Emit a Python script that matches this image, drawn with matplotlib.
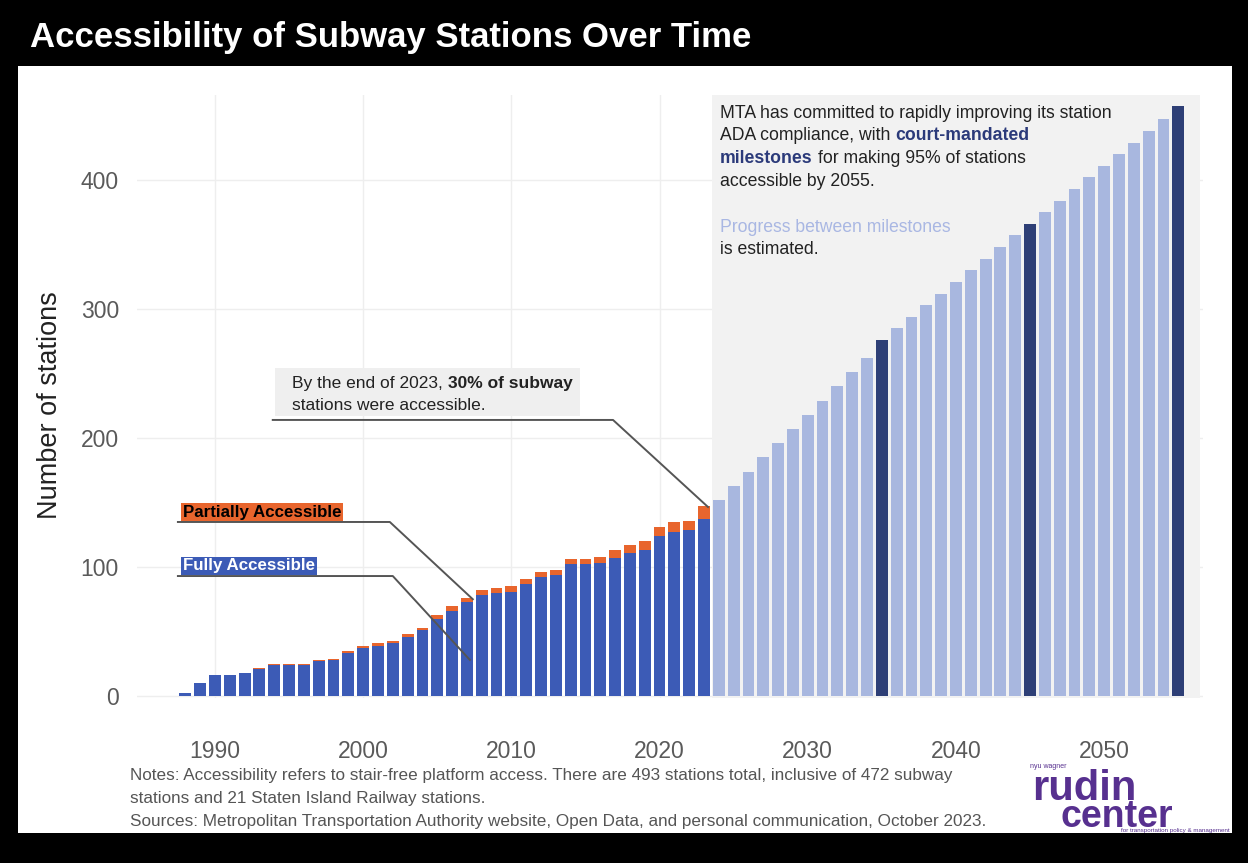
import matplotlib
matplotlib.use('Agg')
import matplotlib.pyplot as plt
from matplotlib.patches import Rectangle
from matplotlib.transforms import ScaledTranslation

# ---------------- data ----------------
hist_years = list(range(1988, 2024))
fully = [2, 10, 16, 16, 18, 21, 24, 24, 24, 27,
         28, 33, 37, 39, 41, 46, 51, 60, 66, 73,
         78, 80, 81, 87, 92, 94, 102, 102, 103, 107,
         111, 113, 124, 127, 129, 137]
partial = [0, 0, 0, 0, 0, 1, 1, 1, 1, 1,
           1, 2, 2, 2, 2, 2, 2, 3, 4, 3,
           4, 4, 4, 4, 4, 4, 4, 4, 5, 6,
           6, 7, 7, 8, 7, 10]
future_years = list(range(2024, 2056))
future = [152, 163, 174, 185, 196, 207, 218, 229, 240, 251,
          262, 276, 285, 294, 303, 312, 321, 330, 339, 348,
          357, 366, 375, 384, 393, 402, 411, 420, 429, 438,
          447, 457]
milestone_years = [2035, 2045, 2055]
y_ticks = [0, 100, 200, 300, 400]
x_ticks = [1990, 2000, 2010, 2020, 2030, 2040, 2050]

# ---------------- style ----------------
C_FULL = '#3c5bb6'
C_PART = '#e8652d'
C_FUT = '#a8b7df'
C_MILE = '#2e3f76'
C_SHADE = '#f2f2f2'
C_NAVY = '#2b3a7a'
C_LIGHT = '#a9b7e3'
C_PURPLE = '#57308f'

plt.rcParams['font.family'] = ['Liberation Sans', 'DejaVu Sans']

W, H = 1248, 863
DPI = 100
fig = plt.figure(figsize=(W / DPI, H / DPI), dpi=DPI, facecolor='black')

# white panel (behind everything)
fig.patches.append(Rectangle((18 / W, 1 - 833 / H), (1232 - 18) / W, (833 - 66) / H,
                             transform=fig.transFigure, fc='white', ec='none', zorder=-5))

ax = fig.add_axes([137 / W, 1 - 698 / H, (1203 - 137) / W, (698 - 95) / H])
ax.set_facecolor('none')
ax.set_xlim(1984.74, 2056.67)
ax.set_ylim(-1.55, 465.9)

ax.axvspan(2023.55, 2056.45, color=C_SHADE, zorder=0.8, lw=0)
ax.set_axisbelow(True)
ax.grid(color='#eeeeee', lw=1)

# bars
ax.bar(hist_years, fully, width=0.8, color=C_FULL, zorder=2)
ax.bar(hist_years, partial, width=0.8, bottom=fully, color=C_PART, zorder=2)
fut_colors = [C_MILE if y in milestone_years else C_FUT for y in future_years]
ax.bar(future_years, future, width=0.8, color=fut_colors, zorder=2)

for s in ax.spines.values():
    s.set_visible(False)
ax.set_yticks(y_ticks)
ax.set_xticks(x_ticks)
ax.tick_params(axis='both', length=0, labelsize=16.5, labelcolor='#5a5a5a')
ax.tick_params(axis='y', pad=13)
ax.tick_params(axis='x', pad=30)

fig.text(50 / W, 1 - 405 / H, 'Number of stations', rotation=90, fontsize=19.5,
         color='#222222', ha='center', va='center')

# title
fig.text(30 / W, 1 - 38 / H, 'Accessibility of Subway Stations Over Time', color='white',
         fontsize=25, fontweight='bold', ha='left', va='center')

# notes
note_kw = dict(fontsize=12.3, color='#555555', ha='left', va='center')
fig.text(130 / W, 1 - 775 / H, 'Notes: Accessibility refers to stair-free platform access. '
         'There are 493 stations total, inclusive of 472 subway', **note_kw)
fig.text(130 / W, 1 - 798 / H, 'stations and 21 Staten Island Railway stations.', **note_kw)
fig.text(130 / W, 1 - 821 / H, 'Sources: Metropolitan Transportation Authority website, Open Data, '
         'and personal communication, October 2023.', **note_kw)

# logo
fig.text(1030 / W, 1 - 766 / H, 'nyu wagner', fontsize=5, color=C_PURPLE, va='center')
fig.text(1032 / W, 1 - 800 / H, 'rudin', fontsize=30, fontweight='bold', color=C_PURPLE,
         va='baseline', ha='left')
fig.text(1060 / W, 1 - 827 / H, 'center', fontsize=27, fontweight='bold', color=C_PURPLE,
         va='baseline', ha='left')
fig.text(1230 / W, 1 - 828 / H, 'for transportation policy & management', fontsize=4.5,
         color=C_PURPLE, va='top', ha='right')

# annotation lines
LC = '#555555'
ax.plot([1987.5, 2001.8, 2007.4], [134.9, 134.9, 75], color=LC, lw=1.4, zorder=5, clip_on=False)
ax.plot([1987.5, 2002.0, 2007.2], [93.0, 93.0, 28], color=LC, lw=1.4, zorder=5, clip_on=False)
ax.plot([1993.9, 2016.86, 2023.27], [214, 214, 146.5], color=LC, lw=1.4, zorder=5, clip_on=False)

ax.text(1987.85, 142.6, 'Partially Accessible', fontsize=12.2, fontweight='bold', color='black',
        ha='left', va='center', zorder=6,
        bbox=dict(boxstyle='square,pad=0.1', fc=C_PART, ec='none'))
ax.text(1987.85, 100.8, 'Fully Accessible', fontsize=12.2, fontweight='bold', color='white',
        ha='left', va='center', zorder=6,
        bbox=dict(boxstyle='square,pad=0.1', fc=C_FULL, ec='none'))

ax.add_patch(Rectangle((1994.05, 217), 2014.63 - 1994.05, 254.3 - 217, fc='#efefef',
                       ec='none', zorder=3))

renderer = fig.canvas.get_renderer()


def rich(x, y, parts, size=12.7):
    offset = 0.0
    space = size * 0.278 * DPI / 72.0
    for txt, weight, color in parts:
        tr = ax.transData + ScaledTranslation(offset / DPI, 0, fig.dpi_scale_trans)
        t = ax.text(x, y, txt, fontsize=size, fontweight=weight, color=color,
                    ha='left', va='baseline', transform=tr, zorder=7)
        offset += t.get_window_extent(renderer).width + space


DARK = '#222222'
rich(1995.2, 238.8, [('By the end of 2023,', 'normal', DARK), ('30% of subway', 'bold', DARK)], size=12.5)
rich(1995.2, 221.7, [('stations were accessible.', 'normal', DARK)], size=12.5)

rich(2024.08, 448.0, [('MTA has committed to rapidly improving its station', 'normal', DARK)])
rich(2024.08, 431.0, [('ADA compliance, with', 'normal', DARK), ('court-mandated', 'bold', C_NAVY)])
rich(2024.08, 413.0, [('milestones', 'bold', C_NAVY), ('for making 95% of stations', 'normal', DARK)])
rich(2024.08, 395.0, [('accessible by 2055.', 'normal', DARK)])
rich(2024.08, 359.7, [('Progress between milestones', 'normal', C_LIGHT)])
rich(2024.08, 342.6, [('is estimated.', 'normal', DARK)])

fig.savefig('out.png', dpi=DPI, facecolor='black')
